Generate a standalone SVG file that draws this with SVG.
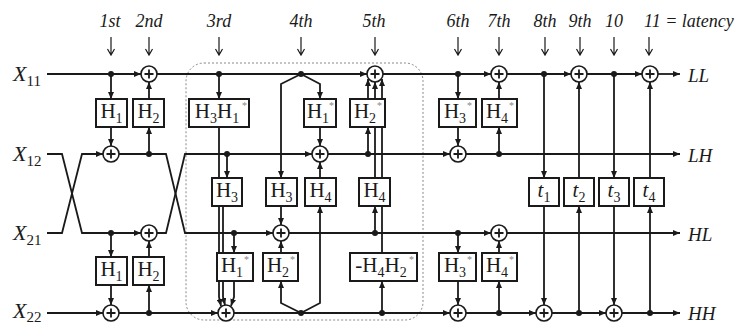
<svg xmlns="http://www.w3.org/2000/svg" width="748" height="326" viewBox="0 0 748 326">
<style>
.w{fill:none;stroke:#1a1a1a;stroke-width:1.8}
.a{fill:none;stroke:#1a1a1a;stroke-width:1.8;marker-end:url(#ah)}
.d{fill:#1a1a1a}
.bx rect{fill:#fff;stroke:#1a1a1a;stroke-width:2}
.ad circle{fill:#fff;stroke:#1a1a1a;stroke-width:1.6}
.ad path{stroke:#1a1a1a;stroke-width:1.8;fill:none}
.t{font-family:"Liberation Serif",serif;font-size:21px;fill:#1a1a1a}
.s{font-size:14px}
.st{font-family:"Liberation Serif",serif;font-size:10px;fill:#888}
.lab{font-family:"Liberation Serif",serif;font-style:italic;font-size:18px;fill:#1a1a1a}
.out{font-family:"Liberation Serif",serif;font-style:italic;font-size:19px;fill:#1a1a1a}
.inl{font-family:"Liberation Serif",serif;font-size:22px;fill:#1a1a1a}
.dn{fill:none;stroke:#1a1a1a;stroke-width:1.2}
</style>
<defs>
<marker id="ah" markerUnits="userSpaceOnUse" markerWidth="7" markerHeight="6" refX="7" refY="3" orient="auto">
<path d="M0,0 L7,3 L0,6 z" fill="#1a1a1a"/>
</marker>
</defs>
<rect x="186" y="63" width="237" height="257" rx="18" fill="none" stroke="#888" stroke-width="1" stroke-dasharray="2,2"/>
<g id="labels">
<text class="lab" x="110" y="27" text-anchor="middle">1st</text>
<text class="lab" x="149" y="27" text-anchor="middle">2nd</text>
<text class="lab" x="219" y="27" text-anchor="middle">3rd</text>
<text class="lab" x="301" y="27" text-anchor="middle">4th</text>
<text class="lab" x="374" y="27" text-anchor="middle">5th</text>
<text class="lab" x="458" y="27" text-anchor="middle">6th</text>
<text class="lab" x="499" y="27" text-anchor="middle">7th</text>
<text class="lab" x="545" y="27" text-anchor="middle">8th</text>
<text class="lab" x="580" y="27" text-anchor="middle">9th</text>
<text class="lab" x="614" y="27" text-anchor="middle">10</text>
<text class="lab" x="644" y="27">11 = latency</text>
<path class="dn" d="M111,37V55M107.5,49L111,55L114.5,49M149,37V55M145.5,49L149,55L152.5,49M219,37V55M215.5,49L219,55L222.5,49M301,37V55M297.5,49L301,55L304.5,49M375,37V55M371.5,49L375,55L378.5,49M458,37V55M454.5,49L458,55L461.5,49M499,37V55M495.5,49L499,55L502.5,49M545,37V55M541.5,49L545,55L548.5,49M580,37V55M576.5,49L580,55L583.5,49M614,37V55M610.5,49L614,55L617.5,49M649,37V55M645.5,49L649,55L652.5,49"/>
<text class="inl" x="13" y="81"><tspan font-style="italic">X</tspan><tspan font-size="15" dy="5">11</tspan></text>
<text class="inl" x="13" y="161"><tspan font-style="italic">X</tspan><tspan font-size="15" dy="5">12</tspan></text>
<text class="inl" x="13" y="240"><tspan font-style="italic">X</tspan><tspan font-size="15" dy="5">21</tspan></text>
<text class="inl" x="13" y="318"><tspan font-style="italic">X</tspan><tspan font-size="15" dy="4">22</tspan></text>
<text class="out" x="688" y="82">LL</text>
<text class="out" x="688" y="162">LH</text>
<text class="out" x="688" y="241">HL</text>
<text class="out" x="688" y="320">HH</text>
</g>
<g id="connectors">
<path class="a" d="M47,74H141"/>
<path class="a" d="M157,74H367"/>
<path class="a" d="M383,74H491"/>
<path class="a" d="M507,74H571"/>
<path class="a" d="M587,74H642"/>
<path class="a" d="M658,74H680"/>
<path class="a" d="M47,154H62L82,233H141"/>
<path class="a" d="M47,233H62L82,154H103"/>
<path class="a" d="M119,154H166L185,233H273"/>
<path class="a" d="M157,233H166L185,154H312"/>
<path class="a" d="M328,154H450"/>
<path class="a" d="M466,154H680"/>
<path class="a" d="M289,233H491"/>
<path class="a" d="M507,233H680"/>
<path class="a" d="M47,313H103"/>
<path class="a" d="M119,313H218"/>
<path class="a" d="M234,313H450"/>
<path class="a" d="M466,313H536"/>
<path class="a" d="M552,313H606"/>
<path class="a" d="M622,313H680"/>
<path class="a" d="M111,74V99"/>
<path class="a" d="M111,127V146"/>
<path class="a" d="M111,233V257"/>
<path class="a" d="M111,285V305"/>
<path class="a" d="M149,154V127"/>
<path class="a" d="M149,99V82"/>
<path class="a" d="M149,313V285"/>
<path class="a" d="M149,257V241"/>
<path class="a" d="M219,74V99"/>
<path class="a" d="M219,127V297L221,306"/>
<path class="a" d="M227,154V178"/>
<path class="a" d="M223,206V297L225,305"/>
<path class="a" d="M234,233V253"/>
<path class="a" d="M234,281V297L231,306"/>
<path class="a" d="M301,74L281,84V178"/>
<path class="a" d="M301,74L320,84V99"/>
<path class="a" d="M320,127V146"/>
<path class="a" d="M281,206V225"/>
<path class="a" d="M301,313L281,303V281"/>
<path class="a" d="M281,253V241"/>
<path class="a" d="M301,313L320,303V206"/>
<path class="a" d="M320,178V162"/>
<path class="a" d="M368,154V127"/>
<path class="a" d="M368,99V79"/>
<path class="a" d="M375,233V206"/>
<path class="a" d="M375,178V82"/>
<path class="a" d="M382,313V281"/>
<path class="a" d="M382,253V79"/>
<path class="a" d="M458,74V99"/>
<path class="a" d="M458,127V146"/>
<path class="a" d="M458,233V253"/>
<path class="a" d="M458,281V305"/>
<path class="a" d="M499,154V127"/>
<path class="a" d="M499,99V82"/>
<path class="a" d="M499,313V281"/>
<path class="a" d="M499,253V241"/>
<path class="a" d="M544,74V178"/>
<path class="a" d="M544,206V305"/>
<path class="a" d="M579,313V206"/>
<path class="a" d="M579,178V82"/>
<path class="a" d="M614,74V178"/>
<path class="a" d="M614,206V305"/>
<path class="a" d="M650,313V206"/>
<path class="a" d="M650,178V82"/>
<g class="d">
<circle cx="111" cy="74" r="3"/><circle cx="219" cy="74" r="3"/><circle cx="301" cy="74" r="3"/><circle cx="458" cy="74" r="3"/><circle cx="544" cy="74" r="3"/><circle cx="614" cy="74" r="3"/>
<circle cx="149" cy="154" r="3"/><circle cx="227" cy="154" r="3"/><circle cx="368" cy="154" r="3"/><circle cx="499" cy="154" r="3"/>
<circle cx="111" cy="233" r="3"/><circle cx="234" cy="233" r="3"/><circle cx="375" cy="233" r="3"/><circle cx="458" cy="233" r="3"/>
<circle cx="149" cy="313" r="3"/><circle cx="301" cy="313" r="3"/><circle cx="382" cy="313" r="3"/><circle cx="499" cy="313" r="3"/><circle cx="579" cy="313" r="3"/><circle cx="650" cy="313" r="3"/>
</g>
</g>
<g id="b1t" class="bx"><rect x="96" y="99" width="31" height="28"/><text class="t" x="111.5" y="118" text-anchor="middle">H<tspan class="s" dy="5">1</tspan></text></g>
<g id="b2t" class="bx"><rect x="133" y="99" width="31" height="28"/><text class="t" x="148.5" y="118" text-anchor="middle">H<tspan class="s" dy="5">2</tspan></text></g>
<g id="b3t" class="bx"><rect x="189" y="99" width="60" height="28"/><text class="t" x="217" y="118" text-anchor="middle">H<tspan class="s" dy="5">3</tspan><tspan dy="-5">H</tspan><tspan class="s" dy="5">1</tspan></text><text class="st" x="242" y="109">*</text></g>
<g id="b4t" class="bx"><rect x="304" y="99" width="32" height="28"/><text class="t" x="318" y="118" text-anchor="middle">H<tspan class="s" dy="5">1</tspan></text><text class="st" x="329" y="109">*</text></g>
<g id="b5t" class="bx"><rect x="350" y="99" width="35" height="28"/><text class="t" x="365" y="118" text-anchor="middle">H<tspan class="s" dy="5">2</tspan></text><text class="st" x="377" y="109">*</text></g>
<g id="b6t" class="bx"><rect x="439" y="99" width="37" height="28"/><text class="t" x="455" y="118" text-anchor="middle">H<tspan class="s" dy="5">3</tspan></text><text class="st" x="467" y="109">*</text></g>
<g id="b7t" class="bx"><rect x="482" y="99" width="35" height="28"/><text class="t" x="497" y="118" text-anchor="middle">H<tspan class="s" dy="5">4</tspan></text><text class="st" x="509" y="109">*</text></g>
<g id="b3m" class="bx"><rect x="212" y="178" width="30" height="28"/><text class="t" x="227" y="197" text-anchor="middle">H<tspan class="s" dy="5">3</tspan></text></g>
<g id="b4m1" class="bx"><rect x="266" y="178" width="31" height="28"/><text class="t" x="281.5" y="197" text-anchor="middle">H<tspan class="s" dy="5">3</tspan></text></g>
<g id="b4m2" class="bx"><rect x="305" y="178" width="31" height="28"/><text class="t" x="320.5" y="197" text-anchor="middle">H<tspan class="s" dy="5">4</tspan></text></g>
<g id="b5m" class="bx"><rect x="359" y="178" width="31" height="28"/><text class="t" x="374.5" y="197" text-anchor="middle">H<tspan class="s" dy="5">4</tspan></text></g>
<g id="t1" class="bx"><rect x="529" y="178" width="30" height="28"/><text class="t" x="544" y="197" text-anchor="middle"><tspan font-style="italic">t</tspan><tspan class="s" dy="5">1</tspan></text></g>
<g id="t2" class="bx"><rect x="564" y="178" width="30" height="28"/><text class="t" x="579" y="197" text-anchor="middle"><tspan font-style="italic">t</tspan><tspan class="s" dy="5">2</tspan></text></g>
<g id="t3" class="bx"><rect x="599" y="178" width="30" height="28"/><text class="t" x="614" y="197" text-anchor="middle"><tspan font-style="italic">t</tspan><tspan class="s" dy="5">3</tspan></text></g>
<g id="t4" class="bx"><rect x="634" y="178" width="30" height="28"/><text class="t" x="649" y="197" text-anchor="middle"><tspan font-style="italic">t</tspan><tspan class="s" dy="5">4</tspan></text></g>
<g id="b1b" class="bx"><rect x="96" y="257" width="31" height="28"/><text class="t" x="111.5" y="276" text-anchor="middle">H<tspan class="s" dy="5">1</tspan></text></g>
<g id="b2b" class="bx"><rect x="133" y="257" width="31" height="28"/><text class="t" x="148.5" y="276" text-anchor="middle">H<tspan class="s" dy="5">2</tspan></text></g>
<g id="b3b" class="bx"><rect x="217" y="253" width="36" height="28"/><text class="t" x="232" y="272" text-anchor="middle">H<tspan class="s" dy="5">1</tspan></text><text class="st" x="244" y="263">*</text></g>
<g id="b4b" class="bx"><rect x="263" y="253" width="35" height="28"/><text class="t" x="278" y="272" text-anchor="middle">H<tspan class="s" dy="5">2</tspan></text><text class="st" x="290" y="263">*</text></g>
<g id="b5b" class="bx"><rect x="350" y="253" width="67" height="28"/><text class="t" x="381" y="272" text-anchor="middle">-H<tspan class="s" dy="5">4</tspan><tspan dy="-5">H</tspan><tspan class="s" dy="5">2</tspan></text><text class="st" x="409" y="263">*</text></g>
<g id="b6b" class="bx"><rect x="439" y="253" width="37" height="28"/><text class="t" x="455" y="272" text-anchor="middle">H<tspan class="s" dy="5">3</tspan></text><text class="st" x="467" y="263">*</text></g>
<g id="b7b" class="bx"><rect x="482" y="253" width="35" height="28"/><text class="t" x="497" y="272" text-anchor="middle">H<tspan class="s" dy="5">4</tspan></text><text class="st" x="509" y="263">*</text></g>
<g id="adders" class="ad">
<g id="s1"><circle cx="149" cy="74" r="8"/><path d="M144.5,74H153.5M149,69.5V78.5"/></g>
<g id="s2"><circle cx="375" cy="74" r="8"/><path d="M370.5,74H379.5M375,69.5V78.5"/></g>
<g id="s3"><circle cx="499" cy="74" r="8"/><path d="M494.5,74H503.5M499,69.5V78.5"/></g>
<g id="s4"><circle cx="579" cy="74" r="8"/><path d="M574.5,74H583.5M579,69.5V78.5"/></g>
<g id="s5"><circle cx="650" cy="74" r="8"/><path d="M645.5,74H654.5M650,69.5V78.5"/></g>
<g id="s6"><circle cx="111" cy="154" r="8"/><path d="M106.5,154H115.5M111,149.5V158.5"/></g>
<g id="s7"><circle cx="320" cy="154" r="8"/><path d="M315.5,154H324.5M320,149.5V158.5"/></g>
<g id="s8"><circle cx="458" cy="154" r="8"/><path d="M453.5,154H462.5M458,149.5V158.5"/></g>
<g id="s9"><circle cx="149" cy="233" r="8"/><path d="M144.5,233H153.5M149,228.5V237.5"/></g>
<g id="s10"><circle cx="281" cy="233" r="8"/><path d="M276.5,233H285.5M281,228.5V237.5"/></g>
<g id="s11"><circle cx="499" cy="233" r="8"/><path d="M494.5,233H503.5M499,228.5V237.5"/></g>
<g id="s12"><circle cx="111" cy="313" r="8"/><path d="M106.5,313H115.5M111,308.5V317.5"/></g>
<g id="s13"><circle cx="226" cy="313" r="8"/><path d="M221.5,313H230.5M226,308.5V317.5"/></g>
<g id="s14"><circle cx="458" cy="313" r="8"/><path d="M453.5,313H462.5M458,308.5V317.5"/></g>
<g id="s15"><circle cx="544" cy="313" r="8"/><path d="M539.5,313H548.5M544,308.5V317.5"/></g>
<g id="s16"><circle cx="614" cy="313" r="8"/><path d="M609.5,313H618.5M614,308.5V317.5"/></g>
</g>
</svg>
